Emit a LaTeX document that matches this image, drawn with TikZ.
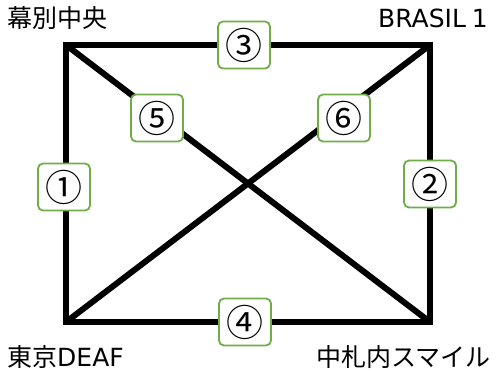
\documentclass[tikz,border=0pt]{standalone}
\usepackage{fontspec}
\setmainfont{Noto Sans CJK JP}
\newfontfamily\latinfont{DejaVu Sans}
\definecolor{edgegreen}{RGB}{112,173,71}
\tikzset{
    numbox/.style={draw=edgegreen, line width=1.8pt, fill=white, rounded corners=5pt,
        minimum width=52pt, minimum height=47pt, inner sep=0pt, font=\fontsize{37}{39}\selectfont},
    teamname/.style={inner sep=0pt, font=\fontsize{25}{27}\selectfont},
    match/.style={line width=6pt}
}
\begin{document}
\begin{tikzpicture}[x=1pt, y=-1pt]
        \useasboundingbox (0, 0) rectangle (497, 373);
        \coordinate (tl) at (66, 45);
        \coordinate (tr) at (430, 45);
        \coordinate (bl) at (66, 322);
        \coordinate (br) at (430, 322);
        \draw[match] (tl) -- (tr) -- (br) -- (bl) -- cycle;
        \draw[match] (tl) -- (br);
        \draw[match] (bl) -- (tr);
        \node[teamname, anchor=west] (makubetsu) at (7, 18) {幕別中央};
        \node[teamname, anchor=east] (brasil) at (488, 18) {\latinfont BRASIL\hspace{-2pt} 1};
        \node[teamname, anchor=west] (tokyo) at (7, 357) {東京{\latinfont DEAF}};
        \node[teamname, anchor=east] (nakasatsunai) at (491, 357) {中札内スマイル};
        \node[numbox] (m1) at (64, 187) {①};
        \node[numbox] (m2) at (430, 184) {②};
        \node[numbox] (m3) at (244, 45) {③};
        \node[numbox] (m4) at (245, 322) {④};
        \node[numbox] (m5) at (157, 118) {⑤};
        \node[numbox] (m6) at (344, 118) {⑥};
    \end{tikzpicture}
\end{document}
